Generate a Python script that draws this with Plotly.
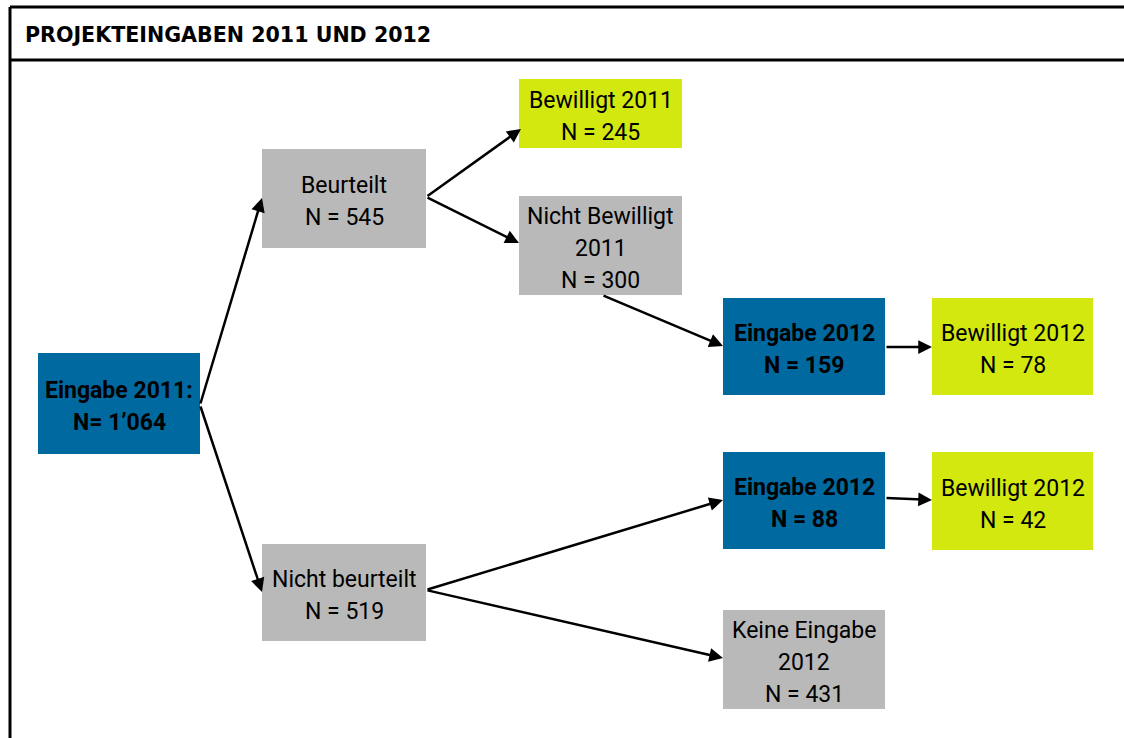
import plotly.graph_objects as go

# ---------------- data ----------------
title = "PROJEKTEINGABEN 2011 UND 2012"
node_titles = [
    "Eingabe 2011:",
    "Beurteilt",
    "Nicht beurteilt",
    "Bewilligt 2011",
    "Nicht Bewilligt<br>2011",
    "Eingabe 2012",
    "Bewilligt 2012",
    "Eingabe 2012",
    "Bewilligt 2012",
    "Keine Eingabe<br>2012",
]
node_counts = [1064, 545, 519, 245, 300, 159, 78, 88, 42, 431]
node_kind = ["main", "grey", "grey", "ok", "grey", "main", "ok", "main", "ok", "grey"]
edges = [(0, 1), (0, 2), (1, 3), (1, 4), (4, 5), (5, 6), (2, 7), (7, 8), (2, 9)]

# ---------------- geometry / style ----------------
W, H = 1124, 738
boxes = [  # x0, y0, x1, y1 in pixels
    (38, 353, 200, 454),
    (262, 149, 426, 248),
    (262, 544, 426, 641),
    (519, 79, 682, 148),
    (519, 196, 682, 295),
    (723, 298, 885, 395),
    (932, 298, 1093, 395),
    (723, 452, 885, 549),
    (932, 452, 1093, 550),
    (723, 610, 885, 709),
]
edge_pts = [  # (tail x, tail y, head x, head y)
    (200, 405, 262, 198),
    (200, 405, 262, 592),
    (426, 197, 521, 129),
    (426, 197, 519, 243),
    (602, 295, 723, 346),
    (885, 347, 932, 347),
    (426, 590, 723, 500),
    (885, 498, 932, 500),
    (426, 590, 723, 658),
]
fill = {"main": "#0069A0", "grey": "#B9B9B9", "ok": "#D2E80E"}
FONT = "Roboto, Liberation Sans, sans-serif"
TITLE_FONT = "DejaVu Sans, sans-serif"
LINE_H = 32
TEXT_DY = 3


def fmt_count(i, n):
    s = f"{n:,}".replace(",", "\u2019")
    return f"N= {s}" if i == 0 else f"N = {s}"


fig = go.Figure()
shapes = []
annotations = []

# frame
shapes.append(dict(type="line", x0=10, x1=W + 20, y0=7, y1=7, xref="x", yref="y",
                   line=dict(color="black", width=3)))
shapes.append(dict(type="line", x0=10, x1=W + 20, y0=60, y1=60, xref="x", yref="y",
                   line=dict(color="black", width=3)))
shapes.append(dict(type="line", x0=10, x1=10, y0=7, y1=H + 20, xref="x", yref="y",
                   line=dict(color="black", width=3)))
annotations.append(dict(x=23, y=35, xref="x", yref="y", text=f"<b>{title}</b>",
                        showarrow=False, xanchor="left", yanchor="middle",
                        font=dict(family=TITLE_FONT, size=20.6, color="black")))

# boxes + text
for i, (t, n, k) in enumerate(zip(node_titles, node_counts, node_kind)):
    x0, y0, x1, y1 = boxes[i]
    shapes.append(dict(type="rect", x0=x0, x1=x1, y0=y0, y1=y1, xref="x", yref="y",
                       fillcolor=fill[k], line=dict(width=0), layer="below"))
    lines = t.split("<br>") + [fmt_count(i, n)]
    cx, cy = (x0 + x1) / 2, (y0 + y1) / 2 + TEXT_DY
    bold = k == "main"
    for j, ln in enumerate(lines):
        yy = cy + (j - (len(lines) - 1) / 2) * LINE_H
        annotations.append(dict(x=cx, y=yy, xref="x", yref="y",
                                text=f"<b>{ln}</b>" if bold else ln,
                                showarrow=False, xanchor="center", yanchor="middle",
                                font=dict(family=FONT, size=23, color="black")))

# arrows
for (s, d), (tx, ty, hx, hy) in zip(edges, edge_pts):
    annotations.append(dict(x=hx, y=hy, ax=tx, ay=ty, xref="x", yref="y",
                            axref="x", ayref="y", text="", showarrow=True,
                            arrowhead=2, arrowsize=1.1, arrowwidth=2.5,
                            arrowcolor="black", standoff=0, startstandoff=0))

fig.update_layout(
    width=W, height=H,
    margin=dict(l=0, r=0, t=0, b=0),
    paper_bgcolor="white", plot_bgcolor="white",
    xaxis=dict(range=[0, W], visible=False, fixedrange=True),
    yaxis=dict(range=[H, 0], visible=False, fixedrange=True),
    shapes=shapes, annotations=annotations, showlegend=False,
)
fig.write_html("out.html", config={"displayModeBar": False},
               post_script="document.body.style.margin='0';document.body.style.overflow='hidden';")
